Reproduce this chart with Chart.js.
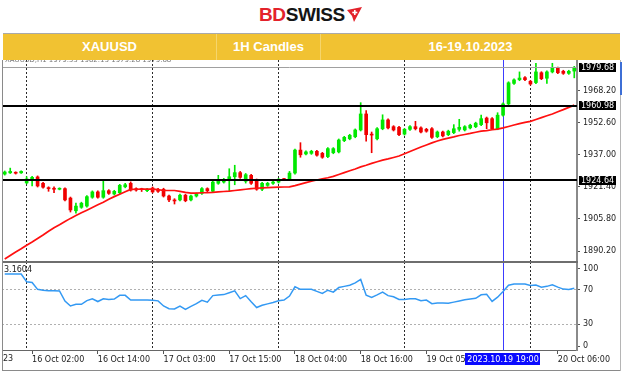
<!DOCTYPE html>
<html>
<head>
<meta charset="utf-8">
<title>XAUUSD 1H Candles</title>
<script src="https://cdn.jsdelivr.net/npm/chart.js@4.4.1/dist/chart.umd.min.js"></script>
<style>
  body { margin: 0; background: #fff; font-family: "Liberation Sans", Arial, sans-serif; }
  #page { position: relative; width: 624px; height: 373px; overflow: hidden; background: #fff; }
  .abs { position: absolute; }
  #logo { left: 259px; top: 4px; font-weight: bold; font-size: 19px; letter-spacing: -0.4px; line-height: 22px; }
  #logo .bd { color: #e3222b; }
  #logo .sw { color: #151515; }
  #mark { left: 346px; top: 7px; }
  #head { left: 3px; top: 33px; width: 617px; height: 26px; background: #f1c232; border-top: 1px solid #a9a9a9; display: flex; z-index: 3; }
  #head div { color: #fff; font-weight: bold; font-size: 13px; text-align: center; line-height: 26px; }
  #head div + div { border-left: 1px solid #f5d56c; }
  .small { font-family: "DejaVu Sans", sans-serif; font-size: 8px; color: #222; white-space: nowrap; }
  #info { left: 5px; top: 56px; font-size: 7px; color: #777; z-index: 1; }
  .line { position: absolute; }
  canvas { position: absolute; left: 0; }
</style>
</head>
<body>
<div id="page">
  <div id="logo" class="abs"><span class="bd">BD</span><span class="sw">SWISS</span></div>
  <svg id="mark" class="abs" width="16" height="15" viewBox="0 0 16 15">
    <polygon points="1,3 16,0 8,15 6,9" fill="#e3222b"/>
    <rect x="8" y="3" width="1.6" height="5" fill="#fff"/>
    <rect x="6.3" y="4.7" width="5" height="1.6" fill="#fff"/>
  </svg>
  <div id="head" class="abs">
    <div style="width:213px">XAUUSD</div>
    <div style="width:103px">1H Candles</div>
    <div style="width:299px">16-19.10.2023</div>
  </div>
  <div id="info" class="abs small">XAUUSD,H1 1979.33 1982.13 1979.28 1979.68</div>

  <canvas id="priceChart" width="624" height="202" style="top:60px"></canvas>
  <canvas id="rsiChart" width="624" height="111" style="top:262px"></canvas>

  <div class="line" style="left:2px;top:261px;width:576px;height:2px;background:#6e6e6e"></div>
  <div class="line" style="left:2px;top:60px;width:1px;height:311px;background:#8a8a8a"></div>
  <div class="line" style="left:2px;top:370px;width:619px;height:1px;background:#8a8a8a"></div>
  <div class="line" style="left:620px;top:60px;width:1px;height:311px;background:#b5b5b5"></div>
  <div class="line" style="left:620px;top:62px;width:2px;height:33px;background:#3d6fd6"></div>
  <div class="abs small" style="left:4px;top:265px">3.1604</div>
  <div class="abs small" style="left:3px;top:354px">23</div>
</div>

<script>
// sessions shown: Friday tail, then four full days and Friday morning
const sessionDays = ["13 Oct", "16 Oct", "17 Oct", "18 Oct", "19 Oct", "20 Oct"];
const sessionFirstHour = [20, 1, 1, 1, 1, 1];
const sessionBars = [4, 23, 23, 23, 23, 9];

const hours = [];
sessionDays.forEach((d, k) => {
  for (let h = 0; h < sessionBars[k]; h++) {
    hours.push(d + " " + String(sessionFirstHour[k] + h).padStart(2, "0") + ":00");
  }
});

const xTickLabels = ["16 Oct 02:00", "16 Oct 14:00", "17 Oct 03:00", "17 Oct 15:00",
  "18 Oct 04:00", "18 Oct 16:00", "19 Oct 05:00", "20 Oct 06:00"];
const dayGrid = ["16 Oct 01:00", "17 Oct 01:00", "18 Oct 01:00", "19 Oct 01:00", "20 Oct 01:00"];
const cursorAt = "19 Oct 19:00";
const cursorLabel = "2023.10.19 19:00";

const priceTicks = [1890.20, 1905.80, 1921.40, 1937.00, 1952.60, 1968.20];
const rsiTicks = [0, 30, 70, 100];
// the terminal pulls the edge labels (0 and 100) inside the panel
const rsiLabelAt = [4.5, 30, 70, 94.5];
const levels = [1960.98, 1924.64];
const lastPrice = 1979.68;

const opens = [1927.7,1928.3,1928.4,1928.3,1923.4,1924.5,1926.3,1923.2,1920.9,1920.7,
  1920.3,1920.6,1916.0,1909.8,1911.5,1912.1,1916.4,1919.0,1916.4,1919.6,
  1918.0,1918.6,1921.5,1923.2,1920.6,1920.4,1919.6,1920.9,1920.3,1920.3,
  1917.0,1914.9,1915.1,1917.4,1915.1,1917.0,1918.3,1920.6,1919.3,1923.2,
  1923.8,1924.5,1926.4,1928.4,1924.2,1927.1,1924.8,1920.3,1922.2,1923.2,
  1923.8,1925.2,1925.3,1928.2,1939.4,1937.5,1937.8,1938.8,1937.8,1936.2,
  1938.1,1938.5,1944.0,1944.9,1945.9,1949.2,1957.0,1947.1,1944.9,1949.8,
  1954.1,1950.8,1950.5,1947.2,1949.5,1950.8,1950.2,1949.5,1949.8,1945.9,
  1948.2,1946.9,1947.9,1949.5,1949.2,1950.2,1950.8,1951.8,1955.0,1954.7,
  1949.8,1956.4,1961.9,1971.9,1973.7,1974.7,1972.9,1972.3,1977.1,1974.4,
  1977.5,1979.4,1977.8,1976.8,1977.9];
const highs = [1929.2,1930.6,1928.8,1929.3,1926.4,1926.6,1926.8,1923.7,1921.5,1921.5,
  1921.0,1921.0,1916.5,1913.5,1914.0,1917.2,1919.5,1919.5,1924.5,1920.1,
  1919.8,1922.7,1923.2,1923.9,1921.0,1920.8,1920.8,1921.4,1920.8,1920.8,
  1917.5,1915.7,1917.9,1917.9,1917.5,1918.5,1921.1,1921.0,1924.3,1927.1,
  1925.6,1930.3,1932.0,1929.0,1928.0,1927.6,1925.3,1923.7,1923.7,1924.3,
  1925.6,1925.6,1929.0,1939.9,1943.0,1939.0,1939.3,1939.3,1938.3,1940.6,
  1940.6,1944.8,1946.1,1947.1,1949.7,1962.5,1958.6,1948.2,1950.3,1956.6,
  1954.6,1951.3,1951.0,1950.0,1951.3,1953.4,1950.7,1950.0,1950.3,1948.7,
  1948.7,1949.1,1951.8,1954.4,1951.3,1952.0,1953.0,1956.4,1955.5,1955.2,
  1957.6,1962.4,1972.7,1974.1,1977.5,1975.2,1973.4,1981.7,1977.6,1978.0,
  1981.7,1979.9,1978.3,1978.3,1980.2];
const lows = [1927.2,1928.0,1927.7,1928.0,1922.9,1921.9,1921.4,1920.8,1919.3,1918.6,
  1920.0,1914.6,1909.2,1908.6,1911.0,1911.6,1915.9,1915.9,1915.9,1917.8,
  1917.5,1918.1,1921.0,1919.4,1919.4,1919.2,1919.1,1918.5,1918.8,1916.5,
  1914.2,1913.1,1914.6,1914.2,1914.6,1916.5,1917.8,1919.1,1918.8,1922.7,
  1923.3,1919.3,1922.5,1925.6,1923.3,1922.7,1919.8,1919.6,1921.7,1922.7,
  1923.3,1924.6,1924.8,1927.7,1935.9,1937.0,1937.3,1936.4,1935.4,1935.7,
  1937.6,1938.0,1943.5,1944.4,1945.4,1948.7,1943.7,1938.1,1944.4,1949.3,
  1949.7,1948.7,1946.4,1946.7,1949.0,1949.2,1947.7,1948.1,1945.1,1945.4,
  1945.8,1946.4,1947.4,1948.6,1948.7,1949.7,1950.3,1951.3,1949.8,1949.3,
  1949.3,1955.9,1961.4,1971.4,1973.2,1973.2,1971.1,1971.8,1973.7,1971.9,
  1977.0,1976.6,1976.3,1976.3,1974.6];
const closes = [1928.7,1929.0,1928.1,1929.0,1925.3,1926.1,1921.9,1921.3,1920.6,1920.3,
  1920.6,1915.1,1910.2,1912.1,1913.5,1916.7,1919.0,1916.4,1919.6,1918.3,
  1919.3,1922.2,1922.5,1919.9,1919.9,1920.1,1920.3,1919.0,1919.3,1917.0,
  1915.1,1914.6,1917.4,1914.7,1917.0,1918.0,1920.6,1919.6,1923.8,1924.8,
  1925.1,1926.4,1928.4,1926.1,1927.4,1923.2,1920.3,1923.2,1923.2,1923.8,
  1925.1,1925.0,1928.2,1939.4,1937.1,1938.5,1938.8,1936.9,1935.9,1940.1,
  1940.1,1944.3,1945.6,1946.6,1949.2,1957.0,1946.9,1946.7,1949.8,1954.1,
  1950.2,1949.2,1946.9,1949.5,1950.8,1949.8,1948.2,1948.6,1945.6,1948.2,
  1946.3,1948.6,1949.8,1950.5,1950.8,1951.5,1952.5,1954.7,1952.7,1949.8,
  1956.4,1961.9,1972.2,1973.6,1974.5,1973.7,1971.6,1977.5,1974.2,1977.5,
  1979.4,1977.1,1976.8,1977.8,1979.68];

// red moving average
const ma = [1886.3,1888.0,1889.7,1891.3,1893.0,1894.6,1896.3,1898.0,1899.8,1901.5,
  1903.0,1904.6,1906.1,1907.5,1908.8,1910.1,1911.4,1912.7,1914.0,1915.4,
  1916.7,1917.9,1919.1,1920.2,1920.3,1920.4,1920.4,1920.4,1920.1,1919.7,
  1919.7,1919.7,1919.3,1918.8,1918.4,1918.4,1918.6,1918.7,1918.8,1919.0,
  1919.2,1919.4,1919.7,1920.0,1920.3,1920.6,1920.8,1921.0,1921.1,1921.2,
  1921.3,1921.4,1921.5,1922.1,1922.8,1923.5,1924.2,1924.8,1925.4,1925.9,
  1926.6,1927.5,1928.4,1929.3,1930.2,1931.2,1932.0,1932.9,1933.7,1934.5,
  1935.1,1935.8,1936.5,1937.6,1938.7,1939.8,1940.9,1941.9,1942.9,1943.8,
  1944.6,1945.2,1945.8,1946.5,1947.0,1947.5,1948.1,1948.6,1948.9,1949.3,
  1949.6,1950.2,1950.9,1951.6,1952.3,1952.9,1953.4,1954.3,1955.2,1956.1,
  1957.0,1958.1,1959.1,1960.2,1961.3];

// oscillator in the lower panel
const rsi = [88.5,88.5,88.5,88.5,79.6,78.8,70.7,69.7,69.1,69.1,
  68.8,57.1,51.3,53.2,53.2,57.6,59.8,56.5,59.8,59.0,
  59.4,63.7,63.7,58.2,58.2,58.2,58.2,58.0,57.3,51.3,
  48.2,47.8,51.3,47.4,50.9,54.0,58.0,55.8,63.4,64.0,
  64.6,66.7,68.9,59.9,63.4,56.2,49.5,52.2,53.8,55.3,
  57.4,58.2,62.9,73.7,70.7,70.7,70.7,68.3,66.0,69.7,
  67.5,72.8,74.2,75.5,78.2,82.3,63.9,61.4,64.3,67.4,
  63.4,62.1,58.9,58.9,59.7,59.8,57.4,58.2,54.0,54.7,
  54.7,54.4,55.8,57.1,58.5,59.4,60.3,64.3,65.0,56.7,
  61.6,68.3,75.5,76.9,76.9,76.9,75.1,75.7,73.3,74.2,
  76.0,73.3,71.0,70.6,71.9];

const upColor = "#00e800";
const downColor = "#f00000";
const candleColors = closes.map((c, i) => c >= opens[i] ? upColor : downColor);
const tickIdx = xTickLabels.map(t => hours.indexOf(t));
const gridIdx = dayGrid.map(t => hours.indexOf(t));
const cursorIdx = hours.indexOf(cursorAt);
const axisFont = { family: "DejaVu Sans", size: 8 };
const AXIS_W = 47;

function xAxis(showLabels) {
  return {
    type: "category",
    offset: true,
    grid: {
      offset: false,
      drawTicks: showLabels,
      tickLength: 4,
      lineWidth: 1,
      color: c => gridIdx.includes(c.index) ? "#2a2a2a" : "rgba(0,0,0,0)",
      tickColor: c => tickIdx.includes(c.index) ? "#555" : "rgba(0,0,0,0)"
    },
    border: { display: showLabels, color: "#666", width: 1, dash: [2, 2] },
    ticks: {
      display: showLabels,
      autoSkip: false,
      maxRotation: 0,
      minRotation: 0,
      align: "start",
      padding: 1,
      font: axisFont,
      color: "#222",
      callback: (v, i) => {
        const k = tickIdx.indexOf(i);
        return k >= 0 ? xTickLabels[k] : "";
      }
    },
    afterFit: s => {
      s.paddingLeft = 0;
      s.paddingRight = 0;
      s.height = showLabels ? 23 : 0;
    }
  };
}

function yAxis(min, max, tickAt, fmt, gridColor) {
  return {
    position: "right",
    min: min,
    max: max,
    afterBuildTicks: s => { s.ticks = tickAt.map(v => ({ value: v })); },
    afterFit: s => { s.width = AXIS_W; s.paddingTop = 0; s.paddingBottom = 0; },
    grid: {
      drawOnChartArea: !!gridColor,
      color: gridColor || "#555",
      tickLength: 3,
      tickColor: "#555"
    },
    border: { color: "#8a8a8a", width: 2, dash: [2, 2] },
    ticks: { padding: 3, font: axisFont, color: "#222", callback: fmt }
  };
}

// vertical cursor line through a panel
const cursorLine = {
  id: "cursorLine",
  beforeDatasetsDraw(chart) {
    const { ctx, chartArea, scales } = chart;
    const x = Math.round(scales.x.getPixelForValue(cursorIdx)) + 0.5;
    ctx.save();
    ctx.strokeStyle = "#3c3cff";
    ctx.lineWidth = 1;
    ctx.beginPath();
    ctx.moveTo(x, chartArea.top);
    ctx.lineTo(x, chartArea.bottom);
    ctx.stroke();
    ctx.restore();
  }
};

// support / resistance lines, bid line and their price tags
const priceLines = {
  id: "priceLines",
  afterDatasetsDraw(chart) {
    const { ctx, chartArea, scales } = chart;
    ctx.save();
    const yb = Math.round(scales.y.getPixelForValue(lastPrice)) + 0.5;
    ctx.strokeStyle = "#a0a0a0";
    ctx.lineWidth = 1;
    ctx.beginPath();
    ctx.moveTo(chartArea.left, yb);
    ctx.lineTo(chartArea.right, yb);
    ctx.stroke();
    ctx.strokeStyle = "#000";
    ctx.lineWidth = 2;
    levels.forEach(v => {
      const y = Math.round(scales.y.getPixelForValue(v));
      ctx.beginPath();
      ctx.moveTo(chartArea.left, y);
      ctx.lineTo(chartArea.right, y);
      ctx.stroke();
    });
    ctx.restore();
  },
  afterDraw(chart) {
    const { ctx, chartArea, scales } = chart;
    ctx.save();
    ctx.font = "8px 'DejaVu Sans'";
    ctx.textBaseline = "middle";
    [lastPrice].concat(levels).forEach(v => {
      const y = scales.y.getPixelForValue(v);
      ctx.fillStyle = "#000";
      ctx.fillRect(chartArea.right + 2, Math.round(y - 4.5), 37, 9);
      ctx.fillStyle = "#fff";
      ctx.fillText(v.toFixed(2), chartArea.right + 4, y + 0.5);
    });
    ctx.restore();
  }
};

// time tag under the cursor
const cursorTag = {
  id: "cursorTag",
  afterDraw(chart) {
    const { ctx, chartArea, scales } = chart;
    const x = scales.x.getPixelForValue(cursorIdx);
    ctx.save();
    ctx.font = "8px 'DejaVu Sans'";
    const w = ctx.measureText(cursorLabel).width + 4;
    ctx.fillStyle = "#0a0aff";
    ctx.fillRect(Math.round(x - w / 2), chartArea.bottom + 3, Math.round(w), 12);
    ctx.fillStyle = "#fff";
    ctx.textBaseline = "middle";
    ctx.textAlign = "center";
    ctx.fillText(cursorLabel, x, chartArea.bottom + 9.5);
    ctx.restore();
  }
};

const common = {
  responsive: false,
  animation: false,
  layout: { padding: { left: 2, right: 0, top: 0, bottom: 0 } },
  plugins: { legend: { display: false }, tooltip: { enabled: false } }
};

new Chart(document.getElementById("priceChart"), {
  type: "bar",
  data: {
    labels: hours,
    datasets: [
      {
        type: "line",
        data: ma,
        borderColor: "#ff1010",
        borderWidth: 1.7,
        pointRadius: 0,
        tension: 0,
        order: 0
      },
      {
        data: opens.map((o, i) => [o, closes[i]]),
        backgroundColor: candleColors,
        barThickness: 3,
        minBarLength: 1,
        grouped: false,
        order: 1
      },
      {
        data: lows.map((l, i) => [l, highs[i]]),
        backgroundColor: candleColors,
        barThickness: 1,
        grouped: false,
        order: 2
      }
    ]
  },
  options: Object.assign({}, common, {
    scales: {
      x: xAxis(false),
      y: yAxis(1884.84, 1983.3, priceTicks, v => Number(v).toFixed(2), null)
    }
  }),
  plugins: [cursorLine, priceLines]
});

new Chart(document.getElementById("rsiChart"), {
  type: "line",
  data: {
    labels: hours,
    datasets: [{
      data: rsi,
      borderColor: "#3399f3",
      borderWidth: 1.5,
      pointRadius: 0,
      tension: 0
    }]
  },
  options: Object.assign({}, common, {
    scales: {
      x: xAxis(true),
      y: yAxis(0, 102.6, rsiLabelAt, (v, i) => String(rsiTicks[i]),
        c => (c.tick && (c.tick.value === 30 || c.tick.value === 70)) ? "#b0b0b0" : "rgba(0,0,0,0)")
    }
  }),
  plugins: [cursorLine, cursorTag]
});
</script>
</body>
</html>
